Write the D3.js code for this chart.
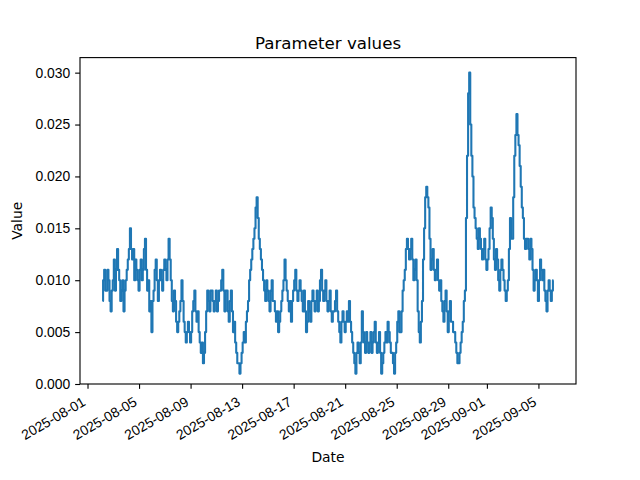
<!DOCTYPE html>
<html>
<head>
<meta charset="utf-8">
<script src="https://cdn.jsdelivr.net/npm/d3@7"></script>
<style>
  html, body { margin: 0; padding: 0; background: #ffffff; }
  svg { display: block; font-family: "DejaVu Sans", sans-serif; }
</style>
</head>
<body>
<svg id="chart" width="640" height="480"></svg>
<script>
// ---- data ----
const chartTitle = "Parameter values";
const xLabel = "Date";
const yLabel = "Value";
const seriesStart = "2025-08-02T04:00:00Z";
const seriesStepHours = 2;
const seriesValues = [
  0.008, 0.010, 0.011, 0.009, 0.009, 0.011, 0.010, 0.008, 0.007, 0.009,
  0.010, 0.012, 0.009, 0.011, 0.013, 0.011, 0.010, 0.008, 0.009, 0.010,
  0.007, 0.009, 0.010, 0.011, 0.012, 0.013, 0.015, 0.013, 0.012, 0.013,
  0.010, 0.012, 0.011, 0.010, 0.009, 0.011, 0.012, 0.010, 0.011, 0.013,
  0.014, 0.011, 0.009, 0.010, 0.007, 0.008, 0.005, 0.008, 0.009, 0.011,
  0.012, 0.010, 0.008, 0.010, 0.011, 0.010, 0.009, 0.011, 0.012, 0.011,
  0.010, 0.012, 0.014, 0.012, 0.010, 0.008, 0.007, 0.009, 0.008, 0.006,
  0.005, 0.006, 0.007, 0.008, 0.010, 0.008, 0.006, 0.005, 0.004, 0.005,
  0.006, 0.005, 0.004, 0.005, 0.007, 0.008, 0.009, 0.007, 0.006, 0.007,
  0.005, 0.004, 0.003, 0.004, 0.002, 0.003, 0.005, 0.007, 0.009, 0.008,
  0.007, 0.009, 0.009, 0.008, 0.007, 0.008, 0.009, 0.007, 0.008, 0.009,
  0.009, 0.010, 0.011, 0.009, 0.007, 0.009, 0.009, 0.007, 0.006, 0.008,
  0.009, 0.007, 0.005, 0.006, 0.004, 0.003, 0.002, 0.002, 0.001, 0.002,
  0.003, 0.004, 0.005, 0.004, 0.006, 0.007, 0.008, 0.010, 0.011, 0.012,
  0.013, 0.014, 0.015, 0.017, 0.018, 0.016, 0.014, 0.013, 0.012, 0.011,
  0.010, 0.009, 0.008, 0.010, 0.009, 0.008, 0.007, 0.009, 0.010, 0.008,
  0.008, 0.007, 0.006, 0.007, 0.005, 0.006, 0.007, 0.008, 0.009, 0.010,
  0.012, 0.010, 0.009, 0.008, 0.007, 0.008, 0.006, 0.008, 0.009, 0.010,
  0.011, 0.009, 0.008, 0.009, 0.010, 0.009, 0.008, 0.007, 0.009, 0.007,
  0.005, 0.006, 0.008, 0.007, 0.006, 0.008, 0.009, 0.008, 0.007, 0.008,
  0.009, 0.007, 0.008, 0.010, 0.011, 0.009, 0.008, 0.009, 0.010, 0.008,
  0.007, 0.008, 0.009, 0.007, 0.006, 0.007, 0.007, 0.008, 0.009, 0.007,
  0.006, 0.005, 0.004, 0.006, 0.007, 0.006, 0.005, 0.006, 0.007, 0.006,
  0.008, 0.006, 0.005, 0.004, 0.003, 0.002, 0.001, 0.003, 0.004, 0.003,
  0.002, 0.004, 0.007, 0.005, 0.004, 0.003, 0.005, 0.004, 0.003, 0.004,
  0.005, 0.003, 0.004, 0.005, 0.006, 0.004, 0.003, 0.004, 0.005, 0.003,
  0.001, 0.002, 0.003, 0.004, 0.005, 0.004, 0.006, 0.005, 0.004, 0.003,
  0.003, 0.002, 0.001, 0.003, 0.004, 0.006, 0.007, 0.005, 0.005, 0.007,
  0.009, 0.010, 0.011, 0.013, 0.014, 0.013, 0.012, 0.013, 0.014, 0.012,
  0.010, 0.011, 0.012, 0.010, 0.007, 0.005, 0.004, 0.006, 0.008, 0.012,
  0.015, 0.018, 0.019, 0.018, 0.017, 0.014, 0.011, 0.012, 0.013, 0.011,
  0.010, 0.011, 0.012, 0.010, 0.009, 0.010, 0.008, 0.007, 0.006, 0.008,
  0.009, 0.007, 0.005, 0.007, 0.008, 0.006, 0.006, 0.005, 0.005, 0.004,
  0.003, 0.002, 0.002, 0.003, 0.004, 0.005, 0.006, 0.008, 0.009, 0.016,
  0.022, 0.028, 0.030, 0.025, 0.022, 0.020, 0.017, 0.016, 0.015, 0.014,
  0.013, 0.015, 0.014, 0.013, 0.012, 0.013, 0.014, 0.012, 0.011, 0.012,
  0.013, 0.015, 0.017, 0.016, 0.014, 0.012, 0.011, 0.013, 0.012, 0.010,
  0.009, 0.011, 0.012, 0.011, 0.010, 0.009, 0.008, 0.009, 0.010, 0.013,
  0.016, 0.014, 0.014, 0.018, 0.022, 0.024, 0.026, 0.024, 0.023, 0.021,
  0.019, 0.017, 0.016, 0.014, 0.013, 0.014, 0.014, 0.013, 0.012, 0.014,
  0.013, 0.011, 0.009, 0.010, 0.011, 0.010, 0.008, 0.010, 0.012, 0.011,
  0.010, 0.011, 0.009, 0.008, 0.007, 0.009, 0.010, 0.009, 0.008, 0.009,
  0.010
];
const xTickLabels = ["2025-08-01", "2025-08-05", "2025-08-09", "2025-08-13", "2025-08-17",
                     "2025-08-21", "2025-08-25", "2025-08-29", "2025-09-01", "2025-09-05"];
const yTickValues = [0.000, 0.005, 0.010, 0.015, 0.020, 0.025, 0.030];

// ---- build series ----
const t0 = new Date(seriesStart);
const series = seriesValues.map((v, i) => ({
  date: new Date(t0.getTime() + i * seriesStepHours * 3600 * 1000),
  value: v
}));

// ---- layout (matplotlib-like) ----
const plotL = 80, plotR = 576, plotT = 57.6, plotB = 384;
const svg = d3.select("#chart");

const tMin = series[0].date.getTime(), tMax = series[series.length - 1].date.getTime();
const tPad = (tMax - tMin) * 0.05;
const x = d3.scaleUtc()
  .domain([new Date(tMin - tPad), new Date(tMax + tPad)])
  .range([plotL, plotR]);

const vMin = d3.min(seriesValues), vMax = d3.max(seriesValues);
const y = d3.scaleLinear()
  .domain([0, vMax + 0.05 * (vMax - vMin)])
  .range([plotB, plotT]);

const parseDay = d3.utcParse("%Y-%m-%d");
const fmtDay = d3.utcFormat("%Y-%m-%d");
const xTicks = xTickLabels.map(parseDay);

// line
const line = d3.line().curve(d3.curveStep).x(d => x(d.date)).y(d => y(d.value));
svg.append("path")
  .datum(series)
  .attr("d", line)
  .attr("fill", "none")
  .attr("stroke", "#1f77b4")
  .attr("stroke-width", 2.08)
  .attr("stroke-linejoin", "round");

// axes
const tickLen = 4.86, tickPad = 4.86;
const xAxis = d3.axisBottom(x).tickValues(xTicks).tickFormat(fmtDay)
  .tickSizeInner(tickLen).tickSizeOuter(0).tickPadding(tickPad);
const gx = svg.append("g").attr("transform", `translate(0,${plotB})`).call(xAxis);
gx.select(".domain").remove();
gx.selectAll(".tick line").attr("stroke", "#000").attr("stroke-width", 1.11);
gx.selectAll(".tick text")
  .attr("font-size", 13.89)
  .attr("fill", "#000")
  .attr("text-anchor", "end")
  .attr("dy", null)
  .attr("y", null)
  .attr("transform", `translate(-1.5,${tickLen + tickPad + 11}) rotate(-30)`);

const yAxis = d3.axisLeft(y).tickValues(yTickValues).tickFormat(d3.format(".3f"))
  .tickSizeInner(tickLen).tickSizeOuter(0).tickPadding(tickPad);
const gy = svg.append("g").attr("transform", `translate(${plotL},0)`).call(yAxis);
gy.select(".domain").remove();
gy.selectAll(".tick line").attr("stroke", "#000").attr("stroke-width", 1.11);
gy.selectAll(".tick text").attr("font-size", 13.89).attr("fill", "#000");

// frame
svg.append("rect")
  .attr("x", plotL).attr("y", plotT)
  .attr("width", plotR - plotL).attr("height", plotB - plotT)
  .attr("fill", "none").attr("stroke", "#000").attr("stroke-width", 1.11);

// titles
svg.append("text")
  .attr("x", (plotL + plotR) / 2).attr("y", 49.3)
  .attr("text-anchor", "middle").attr("font-size", 16.67).attr("fill", "#000")
  .text(chartTitle);
svg.append("text")
  .attr("x", (plotL + plotR) / 2).attr("y", 462)
  .attr("text-anchor", "middle").attr("font-size", 13.89).attr("fill", "#000")
  .text(xLabel);
svg.append("text")
  .attr("transform", `translate(22,${(plotT + plotB) / 2}) rotate(-90)`)
  .attr("text-anchor", "middle").attr("font-size", 13.89).attr("fill", "#000")
  .text(yLabel);
</script>
</body>
</html>
